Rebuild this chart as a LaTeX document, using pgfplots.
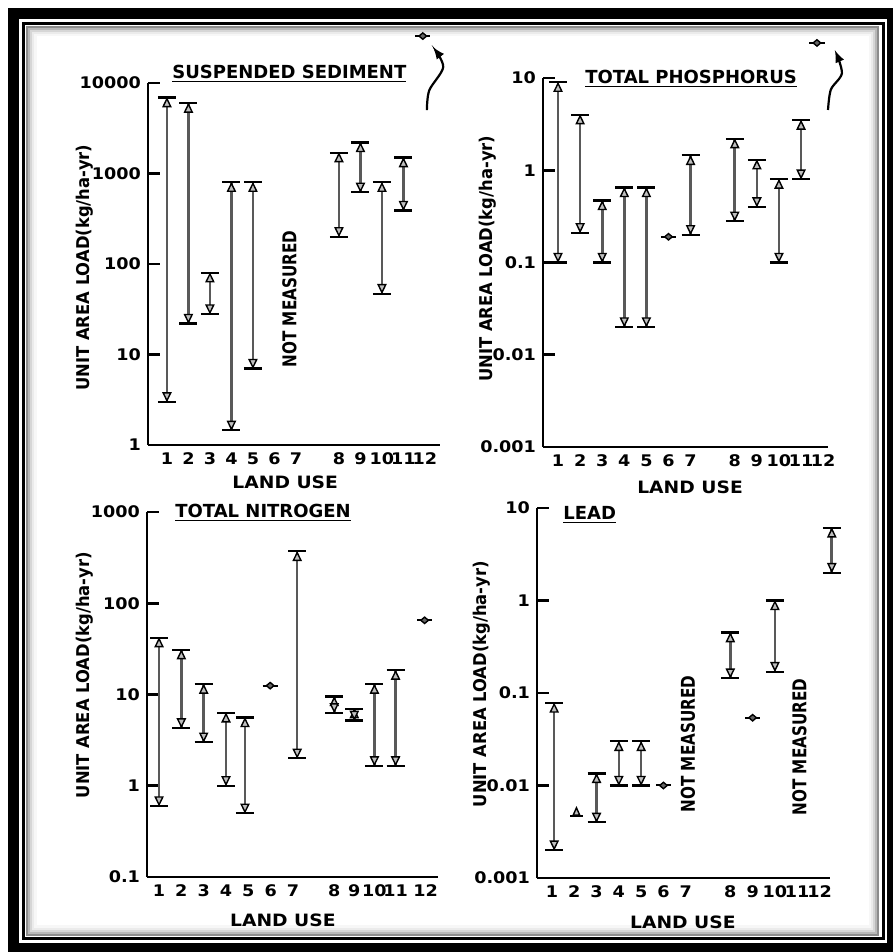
\documentclass[border=0pt]{standalone}
\usepackage{pgfplots}
\pgfplotsset{compat=1.18}
\usepackage{fontspec}
\setmainfont{DejaVu Sans}[FakeStretch=1.1]
\newfontfamily\ylabfont{DejaVu Sans}[FakeStretch=0.93]
\newfontfamily\condfont{DejaVu Sans}[FakeStretch=0.8]
\newfontfamily\titlefont{DejaVu Sans}[FakeStretch=1.0]

\pgfdeclareplotmark{captop}{%
  \pgfsetlinewidth{1.1pt}%
  \pgfpathmoveto{\pgfqpoint{-\pgfplotmarksize}{0pt}}%
  \pgfpathlineto{\pgfqpoint{\pgfplotmarksize}{0pt}}%
  \pgfusepathqstroke
  \pgfsetlinewidth{0.7pt}%
  \pgfpathmoveto{\pgfqpoint{0pt}{-0.6pt}}%
  \pgfpathlineto{\pgfqpoint{0.42\pgfplotmarksize}{-\pgfplotmarksize}}%
  \pgfpathlineto{\pgfqpoint{-0.42\pgfplotmarksize}{-\pgfplotmarksize}}%
  \pgfpathclose
  \pgfusepathqfillstroke
}
\pgfdeclareplotmark{capbot}{%
  \pgfsetlinewidth{1.1pt}%
  \pgfpathmoveto{\pgfqpoint{-\pgfplotmarksize}{0pt}}%
  \pgfpathlineto{\pgfqpoint{\pgfplotmarksize}{0pt}}%
  \pgfusepathqstroke
  \pgfsetlinewidth{0.7pt}%
  \pgfpathmoveto{\pgfqpoint{0pt}{0.6pt}}%
  \pgfpathlineto{\pgfqpoint{0.42\pgfplotmarksize}{\pgfplotmarksize}}%
  \pgfpathlineto{\pgfqpoint{-0.42\pgfplotmarksize}{\pgfplotmarksize}}%
  \pgfpathclose
  \pgfusepathqfillstroke
}
\pgfdeclareplotmark{ptmark}{%
  \pgfsetlinewidth{1pt}%
  \pgfpathmoveto{\pgfqpoint{-0.9\pgfplotmarksize}{0pt}}%
  \pgfpathlineto{\pgfqpoint{0.9\pgfplotmarksize}{0pt}}%
  \pgfusepathqstroke
  \pgfsetlinewidth{0.7pt}%
  \pgfpathmoveto{\pgfqpoint{0pt}{0.38\pgfplotmarksize}}%
  \pgfpathlineto{\pgfqpoint{0.45\pgfplotmarksize}{0pt}}%
  \pgfpathlineto{\pgfqpoint{0pt}{-0.38\pgfplotmarksize}}%
  \pgfpathlineto{\pgfqpoint{-0.45\pgfplotmarksize}{0pt}}%
  \pgfpathclose
  \pgfusepathqfillstroke
}
\pgfdeclareplotmark{tribase}{%
  \pgfsetlinewidth{1.1pt}%
  \pgfpathmoveto{\pgfqpoint{-0.8\pgfplotmarksize}{-0.5\pgfplotmarksize}}%
  \pgfpathlineto{\pgfqpoint{0.8\pgfplotmarksize}{-0.5\pgfplotmarksize}}%
  \pgfusepathqstroke
  \pgfsetlinewidth{0.7pt}%
  \pgfpathmoveto{\pgfqpoint{0pt}{0.5\pgfplotmarksize}}%
  \pgfpathlineto{\pgfqpoint{0.4\pgfplotmarksize}{-0.4\pgfplotmarksize}}%
  \pgfpathlineto{\pgfqpoint{-0.4\pgfplotmarksize}{-0.4\pgfplotmarksize}}%
  \pgfpathclose
  \pgfusepathqfillstroke
}

\pgfplotsset{
  rngline/.style={black!65, line width=1.3pt, unbounded coords=jump, mark=none, forget plot},
  capT/.style={only marks, mark=captop, mark size=4.5pt, black, mark options={fill=black!25}},
  capB/.style={only marks, mark=capbot, mark size=4.5pt, black, mark options={fill=black!25}},
  onept/.style={only marks, mark=ptmark, mark size=4.2pt, black, mark options={fill=black!60}},
  squig/.style={smooth, black, line width=1.1pt, mark=none, -latex},
  chartpanel/.style={
    scale only axis, anchor=south west, clip=false,
    axis lines=left, axis line style={-, line width=1.4pt},
    tick align=inside, yminorticks=false, major tick length=6pt,
    ytick style={line width=1.3pt, black},
    xtick style={draw=none},
    yticklabel style={font=\bfseries\fontsize{8}{8}\selectfont},
    xticklabel style={font=\bfseries\fontsize{8}{8}\selectfont, yshift=-0.5pt},
    xtick={1,2,3,4,5,6,7,9,10,11,12,13},
    xticklabels={1,2,3,4,5,6,7,8,9,10,11,12},
  },
}
\newcommand{\ttl}{\titlefont\bfseries\fontsize{9}{9}\selectfont}
\newcommand{\ylb}{\ylabfont\bfseries\fontsize{8.8}{8.8}\selectfont}
\newcommand{\xlb}{\bfseries\fontsize{8.5}{8.5}\selectfont}
\newcommand{\nmf}{\condfont\bfseries\fontsize{9.5}{9.5}\selectfont}

\begin{document}
\begin{tikzpicture}
\useasboundingbox (0,0) rectangle (446.5pt,476pt);
\fill[white] (0,0) rectangle (446.5pt,476pt);
\foreach \d/\c in {1.2/45,2.2/28,3.2/16,4.2/8,5.2/3}{
  \draw[black!\c, line width=1.1pt] (12.5pt+\d pt,7.5pt+\d pt) rectangle (440pt-\d pt,463.5pt-\d pt);
}
\draw[line width=5.5pt] (6.75pt,1.75pt) rectangle (446.25pt,469.25pt);
\draw[line width=1.5pt] (11.75pt,6.5pt) rectangle (441.5pt,464.25pt);

% ---------------- Suspended sediment ----------------
\begin{axis}[ymode=log, chartpanel, at={(74pt,253.5pt)}, width=146pt, height=181pt,
  xmin=0.12, xmax=13.7, ymin=1, ymax=10000,
  ytick={1,10,100,1000,10000}, yticklabels={1,10,100,1000,10000}]
\addplot[rngline] coordinates {(1,3) (1,6900) (1,nan) (2,22) (2,6000) (2,nan)
 (3,28) (3,80) (3,nan) (4,1.45) (4,800) (4,nan) (5,7) (5,800) (5,nan)
 (9,200) (9,1700) (9,nan) (10,620) (10,2200) (10,nan) (11,47) (11,800) (11,nan) (12,390) (12,1500)};
\addplot[capT] coordinates {(1,6900) (2,6000) (3,80) (4,800) (5,800) (9,1700) (10,2200) (11,800) (12,1500)};
\addplot[capB] coordinates {(1,3) (2,22) (3,28) (4,1.45) (5,7) (9,200) (10,620) (11,47) (12,390)};
\addplot[onept] coordinates {(12.9,33000)};
\addplot[squig] coordinates {(13.09,5000) (13.2,8300) (13.85,15000) (13.37,25000)};
\node[rotate=90, font=\nmf] at (axis cs:6.7,41) {NOT MEASURED};
\node[anchor=south west, inner sep=0pt, font=\ttl] at (rel axis cs:0.082,1.0) {\underline{SUSPENDED SEDIMENT}};
\node[rotate=90, font=\ylb] at ([xshift=-31.5pt]rel axis cs:0,0.49) {UNIT AREA LOAD(kg/ha-yr)};
\node[font=\xlb] at ([yshift=-18.5pt]rel axis cs:0.47,0) {LAND USE};
\end{axis}

% ---------------- Total phosphorus ----------------
\begin{axis}[ymode=log, chartpanel, at={(271.5pt,252.5pt)}, width=142.5pt, height=184.5pt,
  xmin=0.32, xmax=13.22, ymin=0.001, ymax=10,
  ytick={0.001,0.01,0.1,1,10}, yticklabels={0.001,0.01,0.1,1,10}]
\addplot[rngline] coordinates {(1,0.1) (1,9) (1,nan) (2,0.21) (2,4) (2,nan)
 (3,0.1) (3,0.47) (3,nan) (4,0.02) (4,0.65) (4,nan) (5,0.02) (5,0.65) (5,nan)
 (7,0.2) (7,1.45) (7,nan) (9,0.28) (9,2.2) (9,nan) (10,0.4) (10,1.3) (10,nan)
 (11,0.1) (11,0.8) (11,nan) (12,0.8) (12,3.5)};
\addplot[capT] coordinates {(1,9) (2,4) (3,0.47) (4,0.65) (5,0.65) (7,1.45) (9,2.2) (10,1.3) (11,0.8) (12,3.5)};
\addplot[capB] coordinates {(1,0.1) (2,0.21) (3,0.1) (4,0.02) (5,0.02) (7,0.2) (9,0.28) (10,0.4) (11,0.1) (12,0.8)};
\addplot[onept] coordinates {(6,0.19) (12.72,24)};
\addplot[squig] coordinates {(13.22,4.5) (13.35,7.5) (13.85,11.3) (13.53,20)};
\node[anchor=south west, inner sep=0pt, font=\ttl] at (rel axis cs:0.147,0.973) {\underline{TOTAL PHOSPHORUS}};
\node[rotate=90, font=\ylb] at ([xshift=-27.5pt]rel axis cs:0,0.51) {UNIT AREA LOAD(kg/ha-yr)};
\node[font=\xlb] at ([yshift=-20pt]rel axis cs:0.516,0) {LAND USE};
\end{axis}

% ---------------- Total nitrogen ----------------
\begin{axis}[ymode=log, chartpanel, at={(73.5pt,37.5pt)}, width=145.5pt, height=182.5pt,
  xmin=0.46, xmax=13.5, ymin=0.1, ymax=1000,
  xtick={1,2,3,4,5,6,7,8.85,9.75,10.65,11.6,12.95},
  ytick={0.1,1,10,100,1000}, yticklabels={0.1,1,10,100,1000}]
\addplot[rngline] coordinates {(1,0.6) (1,42) (1,nan) (2,4.3) (2,31) (2,nan)
 (3,3.0) (3,13) (3,nan) (4,1.0) (4,6.3) (4,nan) (4.85,0.5) (4.85,5.6) (4.85,nan)
 (7.19,2.0) (7.19,370) (7.19,nan) (8.85,6.3) (8.85,9.5) (8.85,nan) (9.75,5.2) (9.75,7) (9.75,nan)
 (10.65,1.65) (10.65,13) (10.65,nan) (11.6,1.65) (11.6,18.5)};
\addplot[capT] coordinates {(1,42) (2,31) (3,13) (4,6.3) (4.85,5.6) (7.19,370) (8.85,9.5) (9.75,7) (10.65,13) (11.6,18.5)};
\addplot[capB] coordinates {(1,0.6) (2,4.3) (3,3.0) (4,1.0) (4.85,0.5) (7.19,2.0) (8.85,6.3) (9.75,5.2) (10.65,1.65) (11.6,1.65)};
\addplot[onept] coordinates {(5.98,12.5) (12.9,65)};
\node[anchor=south west, inner sep=0pt, font=\ttl] at (rel axis cs:0.096,0.973) {\underline{TOTAL NITROGEN}};
\node[rotate=90, font=\ylb] at ([xshift=-31pt]rel axis cs:0,0.553) {UNIT AREA LOAD(kg/ha-yr)};
\node[font=\xlb] at ([yshift=-21.5pt]rel axis cs:0.467,0) {LAND USE};
\end{axis}

% ---------------- Lead ----------------
\begin{axis}[ymode=log, chartpanel, at={(268.5pt,37pt)}, width=146.5pt, height=185pt,
  xmin=0.33, xmax=13.47, ymin=0.001, ymax=10,
  ytick={0.001,0.01,0.1,1,10}, yticklabels={0.001,0.01,0.1,1,10}]
\addplot[rngline] coordinates {(1.1,0.002) (1.1,0.078) (1.1,nan) (3,0.004) (3,0.0135) (3,nan)
 (4,0.01) (4,0.03) (4,nan) (5,0.01) (5,0.03) (5,nan)
 (9,0.145) (9,0.45) (9,nan) (11,0.17) (11,1.0) (11,nan) (13.55,2.0) (13.55,6.1)};
\addplot[capT] coordinates {(1.1,0.078) (3,0.0135) (4,0.03) (5,0.03) (9,0.45) (11,1.0) (13.55,6.1)};
\addplot[capB] coordinates {(1.1,0.002) (3,0.004) (4,0.01) (5,0.01) (9,0.145) (11,0.17) (13.55,2.0)};
\addplot[only marks, mark=tribase, mark size=4pt, black, mark options={fill=black!25}] coordinates {(2.1,0.0052)};
\addplot[onept] coordinates {(6,0.01) (10,0.054)};
\node[rotate=90, font=\nmf] at (axis cs:7.1,0.028) {NOT MEASURED};
\node[rotate=90, font=\nmf] at (axis cs:12.1,0.026) {NOT MEASURED};
\node[anchor=south west, inner sep=0pt, font=\ttl] at (rel axis cs:0.089,0.957) {\underline{LEAD}};
\node[rotate=90, font=\ylb] at ([xshift=-27.5pt]rel axis cs:0,0.524) {UNIT AREA LOAD(kg/ha-yr)};
\node[font=\xlb] at ([yshift=-22pt]rel axis cs:0.498,0) {LAND USE};
\end{axis}
\end{tikzpicture}
\end{document}
